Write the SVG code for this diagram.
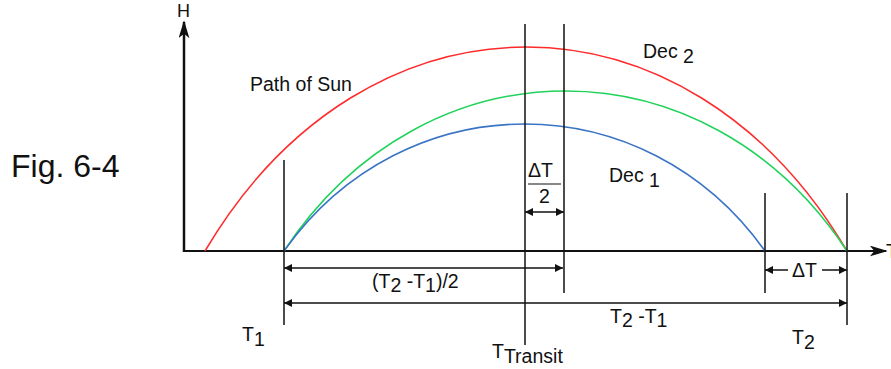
<svg xmlns="http://www.w3.org/2000/svg" width="891" height="369" viewBox="0 0 891 369">
<defs>
<style>
text{font-family:"Liberation Sans",Arial,sans-serif;font-size:19.5px;fill:#111}
.ln{stroke:#111;stroke-width:1.5;fill:none}
.ax{stroke:#111;stroke-width:2.5;fill:none}
.cv{fill:none;stroke-width:1.5}
.dim{stroke:#111;stroke-width:1.5;fill:none}
</style>
<marker id="ae" viewBox="0 0 10 10" refX="10" refY="5" markerWidth="9" markerHeight="8" markerUnits="userSpaceOnUse" orient="auto"><path d="M0,0 L10,5 L0,10 Z" fill="#111"/></marker>
<marker id="as" viewBox="0 0 10 10" refX="0" refY="5" markerWidth="9" markerHeight="8" markerUnits="userSpaceOnUse" orient="auto"><path d="M10,0 L0,5 L10,10 Z" fill="#111"/></marker>
<marker id="big" viewBox="0 0 20 12" refX="18" refY="6" markerWidth="18" markerHeight="11" markerUnits="userSpaceOnUse" orient="auto"><path d="M0,0 L20,6 L0,12 L5,6 Z" fill="#111"/></marker>
</defs>
<rect width="891" height="369" fill="#fff"/>
<g id="title"><text x="11" y="177" style="font-size:32px">Fig. 6-4</text></g>
<g id="axes">
<line class="ax" x1="184" y1="252" x2="184" y2="22" marker-end="url(#big)"/>
<line class="ax" x1="184" y1="251" x2="886" y2="251" style="stroke-width:2" marker-end="url(#big)"/>
<text x="177" y="17" style="font-size:18px">H</text>
<text x="886" y="258">T</text>
</g>
<g id="curves">
<path id="dec2" class="cv" stroke="#ff2a2a" d="M205,251 C365.5,-21 686.5,-21 847,251"/>
<path id="mid" class="cv" stroke="#1fd35a" d="M284,251 C424.75,37.7 706.25,37.7 847,251"/>
<path id="dec1" class="cv" stroke="#3a74c4" d="M284,251 C404.25,81.7 644.75,81.7 765,251"/>
</g>
<g id="verticals">
<line class="ln" x1="284" y1="160" x2="284" y2="325"/>
<line class="ln" x1="525" y1="24" x2="525" y2="345"/>
<line class="ln" x1="564" y1="24" x2="564" y2="293"/>
<line class="ln" x1="765" y1="193" x2="765" y2="293"/>
<line class="ln" x1="847" y1="193" x2="847" y2="325"/>
</g>
<g id="connectors">
<line class="dim" x1="525" y1="212" x2="564" y2="212" marker-start="url(#as)" marker-end="url(#ae)"/>
<line class="dim" x1="284" y1="268" x2="563" y2="268" marker-start="url(#as)" marker-end="url(#ae)"/>
<line class="dim" x1="284" y1="303" x2="847" y2="303" marker-start="url(#as)" marker-end="url(#ae)"/>
<line class="dim" x1="765" y1="270" x2="788" y2="270" marker-start="url(#as)"/>
<line class="dim" x1="822" y1="270" x2="847" y2="270" marker-end="url(#ae)"/>
<line class="dim" x1="528" y1="184" x2="561" y2="184" style="stroke-width:1.2"/>
</g>
<g id="labels">
<text x="250" y="91">Path of Sun</text>
<text x="643" y="58">Dec <tspan dy="5">2</tspan></text>
<text x="609" y="182">Dec <tspan dy="5">1</tspan></text>
<text x="528" y="177">ΔT</text>
<text x="539" y="203">2</text>
<text x="792" y="277">ΔT</text>
<text x="372" y="288">(T<tspan dy="4">2</tspan><tspan dy="-4"> -T</tspan><tspan dy="4">1</tspan><tspan dy="-4">)/2</tspan></text>
<text x="610" y="323">T<tspan dy="4">2</tspan><tspan dy="-4"> -T</tspan><tspan dy="4">1</tspan></text>
<text x="242" y="341">T<tspan dy="5">1</tspan></text>
<text x="792" y="344">T<tspan dy="5">2</tspan></text>
<text x="492" y="358">T<tspan dy="5">Transit</tspan></text>
</g>
</svg>
